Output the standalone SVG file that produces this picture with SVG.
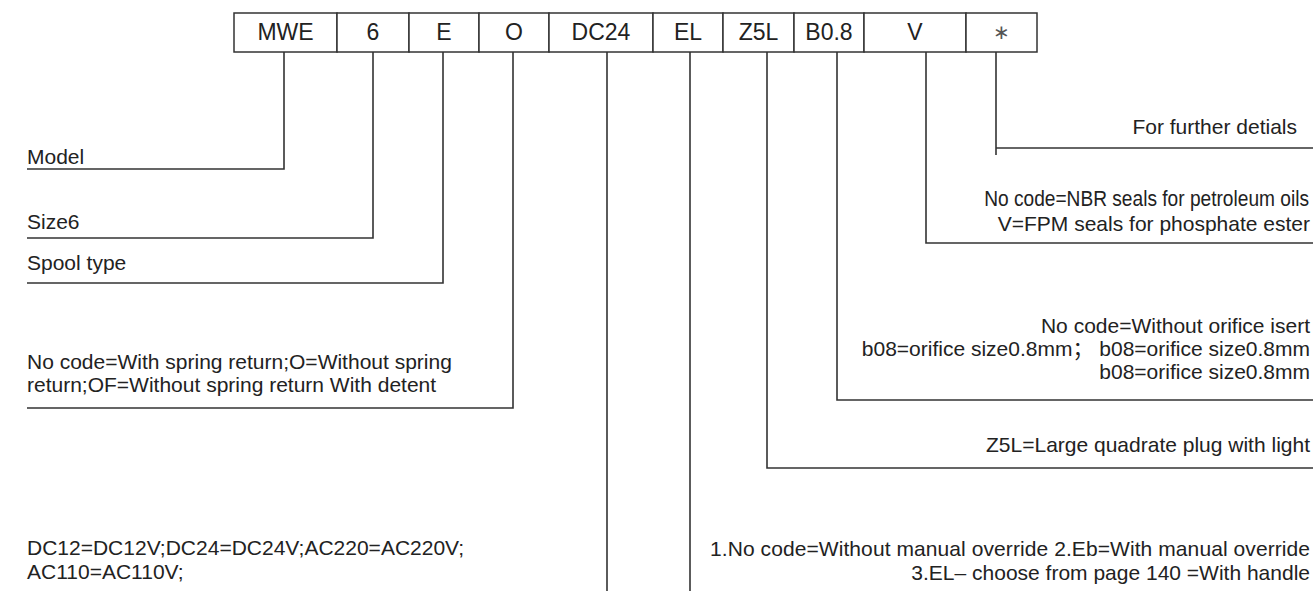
<svg xmlns="http://www.w3.org/2000/svg" width="1313" height="591" viewBox="0 0 1313 591">
<style>
.box{fill:#fff;stroke:#333;stroke-width:1.5}
.bt{font-family:"Liberation Sans",Arial,sans-serif;font-size:23px;fill:#222;text-anchor:middle}
.t{font-family:"Liberation Sans",Arial,"Noto Sans CJK SC",sans-serif;font-size:21px;fill:#222}
.r{text-anchor:end}
.ln{fill:none;stroke:#333;stroke-width:1.6}
</style>
<rect width="1313" height="591" fill="#fff"/>
<g id="code-row">
<g id="n-mwe"><rect class="box" x="234" y="13" width="103" height="39"/><text class="bt" x="285.5" y="40">MWE</text></g>
<g id="n-6"><rect class="box" x="337" y="13" width="72" height="39"/><text class="bt" x="373" y="40">6</text></g>
<g id="n-e"><rect class="box" x="409" y="13" width="70" height="39"/><text class="bt" x="444" y="40">E</text></g>
<g id="n-o"><rect class="box" x="479" y="13" width="70" height="39"/><text class="bt" x="514" y="40">O</text></g>
<g id="n-dc24"><rect class="box" x="549" y="13" width="104" height="39"/><text class="bt" x="601" y="40">DC24</text></g>
<g id="n-el"><rect class="box" x="653" y="13" width="70" height="39"/><text class="bt" x="688" y="40">EL</text></g>
<g id="n-z5l"><rect class="box" x="723" y="13" width="71" height="39"/><text class="bt" x="758.5" y="40">Z5L</text></g>
<g id="n-b08"><rect class="box" x="794" y="13" width="70" height="39"/><text class="bt" x="829" y="40">B0.8</text></g>
<g id="n-v"><rect class="box" x="864" y="13" width="102" height="39"/><text class="bt" x="915" y="40">V</text></g>
<g id="n-star"><rect class="box" x="966" y="13" width="71" height="39"/><text class="bt" x="1001.5" y="39" style="font-size:20px;fill:#555">∗</text></g>
</g>
<g id="connectors">
<polyline class="ln" points="284,52 284,169 27,169"/>
<polyline class="ln" points="373,52 373,238 27,238"/>
<polyline class="ln" points="443,52 443,283 27,283"/>
<polyline class="ln" points="513,52 513,408 27,408"/>
<line class="ln" x1="607" y1="52" x2="607" y2="591"/>
<line class="ln" x1="690" y1="52" x2="690" y2="591"/>
<polyline class="ln" points="767,52 767,468 1313,468"/>
<polyline class="ln" points="837,52 837,400 1313,400"/>
<polyline class="ln" points="926,52 926,243 1313,243"/>
<polyline class="ln" points="996,52 996,155"/>
<line class="ln" x1="996" y1="148" x2="1313" y2="148"/>
</g>
<g id="labels-left">
<text class="t" x="27" y="164">Model</text>
<text class="t" x="27" y="229">Size6</text>
<text class="t" x="27" y="270">Spool type</text>
<text class="t" x="27" y="369">No code=With spring return;O=Without spring</text>
<text class="t" x="27" y="392">return;OF=Without spring return With detent</text>
<text class="t" x="27" y="555">DC12=DC12V;DC24=DC24V;AC220=AC220V;</text>
<text class="t" x="27" y="579">AC110=AC110V;</text>
</g>
<g id="labels-right">
<text class="t r" x="1297" y="134">For further detials</text>
<text class="t r" transform="translate(1309,206) scale(0.87,1)" x="0" y="0" style="font-size:22px">No code=NBR seals for petroleum oils</text>
<text class="t r" x="1310" y="231">V=FPM seals for phosphate ester</text>
<text class="t r" x="1310" y="333">No code=Without orifice isert</text>
<text class="t r" x="1310" y="356">b08=orifice size0.8mm； b08=orifice size0.8mm</text>
<text class="t r" x="1310" y="379">b08=orifice size0.8mm</text>
<text class="t r" x="1310" y="452">Z5L=Large quadrate plug with light</text>
<text class="t r" x="1310" y="556" textLength="600">1.No code=Without manual override 2.Eb=With manual override</text>
<text class="t r" x="1310" y="580">3.EL– choose from page 140 =With handle</text>
</g>
</svg>
